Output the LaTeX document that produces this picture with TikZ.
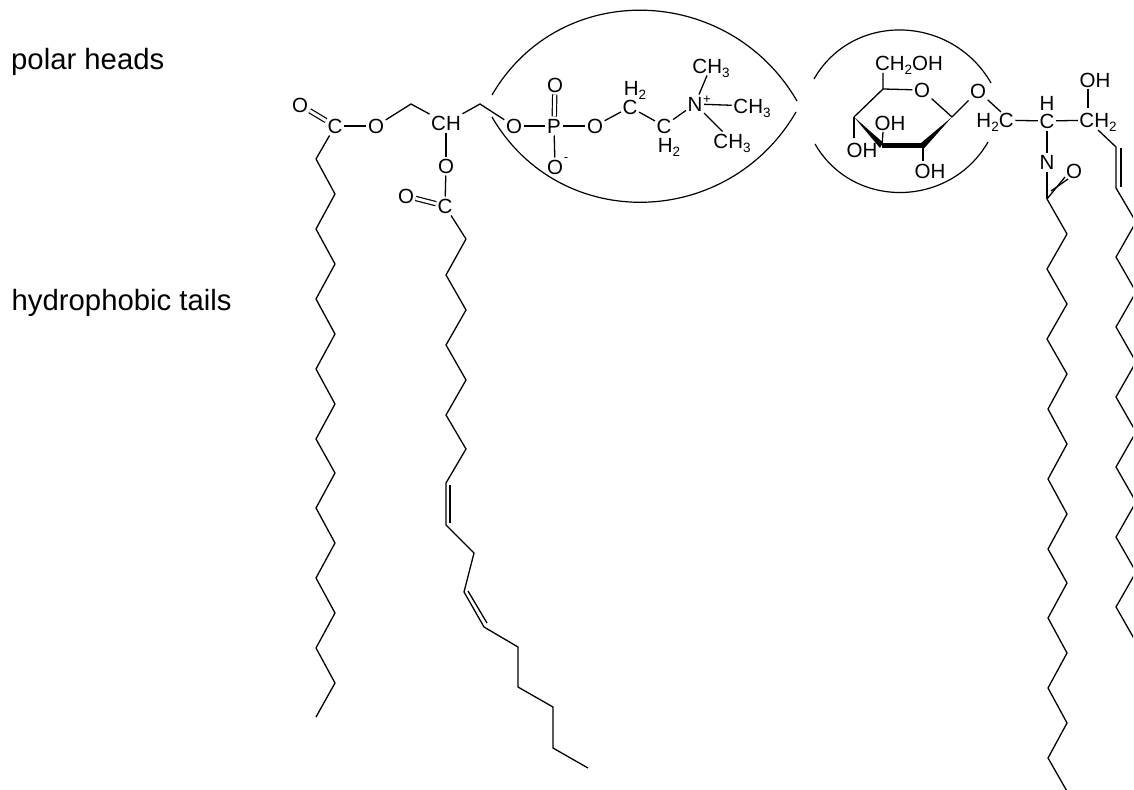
\documentclass[tikz,border=0pt]{standalone}
\usepackage{fontspec}
\setmainfont{Liberation Sans}
\newcommand{\lowidx}[1]{\raisebox{-0.22em}{\fontsize{13.5}{13.5}\selectfont #1}}
\tikzset{
  atom/.style={inner xsep=1.5pt,inner ysep=2pt,text height=14.6pt,text depth=0pt,font=\fontsize{20.5}{24}\selectfont},
  caption/.style={anchor=base west,inner sep=0pt,font=\fontsize{29.3}{34}\selectfont},
  bond/.style={line width=1.3pt,line join=miter},
  dbl/.style={line width=1.2pt,double,double distance=3pt},
  lobe/.style={line width=1.2pt},
  wedge/.style={fill=black,draw=none}
}
\begin{document}
\begin{tikzpicture}[x=1pt,y=-1pt]
\useasboundingbox (0,0) rectangle (1134,789);
\fill[white] (0,0) rectangle (1134,789);
\node[caption] (t1) at (11,70) {polar heads};
\node[caption] (t2) at (11.5,310) {hydrophobic tails};
% lobes
\coordinate (l1a) at (492,95); \coordinate (l1b) at (797,101);
\coordinate (l2a) at (492,117); \coordinate (l2b) at (796,112);
\coordinate (l3a) at (814,79); \coordinate (l3b) at (991,83);
\coordinate (l4a) at (815,144); \coordinate (l4b) at (988,142);
\draw[lobe] (l1a) .. controls (560,-22) and (729,-16) .. (l1b);
\draw[lobe] (l2a) .. controls (560,234) and (728,229) .. (l2b);
\draw[lobe] (l3a) .. controls (853,11) and (952,15) .. (l3b);
\draw[lobe] (l4a) .. controls (853,210) and (950,208) .. (l4b);
% glycerol part
\node[atom] (oa) at (300,105) {O};
\node[atom] (ca) at (335,126) {C};
\node[atom] (ob) at (376,126) {O};
\node[atom] (ch) at (446,123) {CH};
\node[atom] (oc) at (446,166) {O};
\node[atom] (cb) at (445,206) {C};
\node[atom] (od) at (406,196) {O};
\node[atom] (oe) at (514,126) {O};
\node[atom] (pa) at (554,126) {P};
\node[atom] (of) at (555,85) {O};
\node[atom] (og) at (555,167) {O};
\node[atom,inner sep=0pt] (mi) at (566,154) {\fontsize{13}{13}\selectfont -};
\node[atom] (oh) at (595,126) {O};
\node[atom] (cc) at (630,107) {C};
\node[atom] (hc) at (635,88) {H\lowidx{2}};
\node[atom] (cd) at (664,126) {C};
\node[atom] (hd) at (669,145) {H\lowidx{2}};
\node[atom] (na) at (695,104) {N};
\node[atom,inner sep=0pt] (pl) at (707,96) {\fontsize{13}{13}\selectfont +};
\node[atom] (me1) at (711,66) {CH\lowidx{3}};
\node[atom] (me2) at (752,106) {CH\lowidx{3}};
\node[atom] (me3) at (732,141) {CH\lowidx{3}};
\coordinate (g1) at (411,104);
\coordinate (g2) at (480,104);
\draw[dbl] (oa) -- (ca);
\draw[bond] (ca) -- (ob);
\draw[bond] (ob) -- (g1) -- (ch);
\draw[bond] (ch) -- (g2) -- (oe);
\draw[bond] (ch) -- (oc);
\draw[bond] (oc) -- (cb);
\draw[dbl] (od) -- (cb);
\draw[bond] (oe) -- (pa);
\draw[dbl] (of) -- (pa);
\draw[bond] (pa) -- (og);
\draw[bond] (pa) -- (oh);
\draw[bond] (oh) -- (cc);
\draw[bond] (cc) -- (cd);
\draw[bond] (cd) -- (na);
\draw[bond] (na) -- (me1);
\draw[bond] (na) -- (me2);
\draw[bond] (na) -- (me3);
% first tail
\foreach \n/\x/\y in {1/316/159,2/335/194,3/316/229,4/335/264,5/316/299,6/335/334,7/316/369,8/335/404,9/316/439,10/335/473,11/316/508,12/335/543,13/316/578,14/335/613,15/316/648,16/335/683,17/316/717}
  \coordinate (a\n) at (\x,\y);
\draw[bond] (ca) -- (a1);
\draw[bond] (a1) \foreach \i in {2,...,17} { -- (a\i) };
% second tail
\foreach \n/\x/\y in {1/466/239,2/446/275,3/466/310,4/446/345,5/466/380,6/446/415,7/466/449,8/446/483,9/446/525,10/474/553,11/464/592,12/484/627,13/518/647,14/518/687,15/553/707,16/553/748,17/588/768}
  \coordinate (b\n) at (\x,\y);
\draw[bond] (cb) -- (b1);
\draw[bond] (b1) \foreach \i in {2,...,17} { -- (b\i) };
\coordinate (d1a) at (450,485); \coordinate (d1b) at (450,523);
\coordinate (d2a) at (468,591); \coordinate (d2b) at (487,623);
\draw[bond] (d1a) -- (d1b);
\draw[bond] (d2a) -- (d2b);
% sugar
\node[atom] (s6) at (909,63) {CH\lowidx{2}OH};
\node[atom] (so) at (922,90) {O};
\node[atom] (sg) at (978,91) {O};
\node[atom] (s3) at (890,123) {OH};
\node[atom] (s4) at (862,150) {OH};
\node[atom] (s2) at (930,171) {OH};
\coordinate (r1) at (883,89);
\coordinate (r2) at (854,117);
\coordinate (r3) at (882,145.5);
\coordinate (r4) at (923,145.5);
\coordinate (r5) at (952,117);
\coordinate (r6) at (883,73);
\coordinate (r7) at (854,138);
\coordinate (r8) at (883,132);
\coordinate (r9) at (923,161);
\draw[bond] (r6) -- (r1) -- (so);
\draw[bond] (r1) -- (r2);
\draw[bond] (so) -- (r5);
\draw[bond] (r5) -- (sg);
\draw[bond] (r2) -- (r7);
\draw[bond] (r8) -- (r3);
\draw[bond] (r4) -- (r9);
\fill[wedge] (r2) -- (883,142.5) -- (880,148) -- cycle;
\fill[wedge] (r5) -- (923.5,149) -- (921,143) -- cycle;
\draw[line width=5pt] (r3) -- (r4);
% ceramide
\node[atom] (cg) at (995,120) {H\lowidx{2}C};
\node[atom] (ci) at (1047,121) {C};
\node[atom,inner ysep=0pt] (hi) at (1047,103) {H};
\node[atom] (ni) at (1047,162) {N};
\node[atom] (oi) at (1074,171) {O};
\node[atom] (ck) at (1098,120) {CH\lowidx{2}};
\node[atom] (oj) at (1095,80) {OH};
\coordinate (e0) at (1047,199);
\coordinate (e1) at (1116,147);
\coordinate (e2) at (1116,188);
\coordinate (e3) at (1121,148);
\coordinate (e4) at (1121,187);
\coordinate (e5) at (1088,89);
\coordinate (e6) at (1088,108);
\coordinate (e7) at (1001,112);
\coordinate (e8) at (1098,130);
\coordinate (e9) at (1065,177);
\coordinate (e10) at (1051,191);
\coordinate (e11) at (1068,179);
\draw[bond] (sg) -- (e7);
\draw[bond] (cg) -- (ci);
\draw[bond] (ci) -- (ck);
\draw[bond] (ci) -- (ni);
\draw[bond] (ni) -- (e0);
\draw[bond] (e0) -- (e9);
\draw[bond] (e10) -- (e11);
\draw[bond] (e5) -- (e6);
\draw[bond] (e3) -- (e4);
\foreach \n/\x/\y in {1/1067/234,2/1047/269,3/1067/304,4/1047/339,5/1067/374,6/1048/409,7/1067/444,8/1048/479,9/1067/514,10/1048/549,11/1067/583,12/1048/618,13/1067/653,14/1048/688,15/1067/723,16/1048/758,17/1068/793}
  \coordinate (f\n) at (\x,\y);
\draw[bond] (e0) -- (f1);
\draw[bond] (f1) \foreach \i in {2,...,17} { -- (f\i) };
\begin{scope}
\clip (0,0) rectangle (1133,789);
\foreach \n/\x/\y in {1/1136/222,2/1116/257,3/1136/292,4/1116/327,5/1136/362,6/1116/397,7/1136/432,8/1116/467,9/1136/502,10/1116/537,11/1136/572,12/1116/607,13/1136/642}
  \coordinate (h\n) at (\x,\y);
\draw[bond] (e8) -- (e1) -- (e2) -- (h1);
\draw[bond] (h1) \foreach \i in {2,...,13} { -- (h\i) };
\end{scope}
\end{tikzpicture}
\end{document}
